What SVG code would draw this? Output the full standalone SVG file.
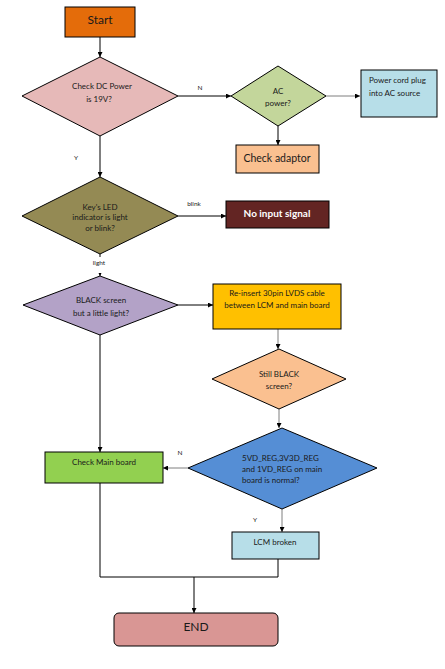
<svg xmlns="http://www.w3.org/2000/svg" width="445" height="669" viewBox="0 0 445 669">
<style>
.n{stroke:#000;stroke-width:1}
.t{font-family:Lato,"Liberation Sans",sans-serif;font-size:8px;fill:#1a1a1a;text-anchor:middle}
.tl{font-family:Lato,"Liberation Sans",sans-serif;font-size:8px;fill:#1a1a1a}
.big{font-family:Lato,"Liberation Sans",sans-serif;font-size:12px;fill:#1a1a1a;text-anchor:middle}
.lab{font-family:Lato,"Liberation Sans",sans-serif;font-size:6.5px;fill:#1a1a1a;text-anchor:middle}
.c{fill:none;stroke:#000;stroke-width:1}
.g{fill:none;stroke:#7f7f7f;stroke-width:1}
</style>
<defs>
<marker id="ah" viewBox="0 0 10 10" refX="10" refY="5" markerWidth="5" markerHeight="5" orient="auto" markerUnits="userSpaceOnUse">
<path d="M0,0 L10,5 L0,10 z" fill="#000"/>
</marker>
</defs>
<rect width="445" height="669" fill="#fff"/>
<g id="connectors">
<line class="c" x1="100" y1="37" x2="100" y2="57" marker-end="url(#ah)"/>
<line class="c" x1="178" y1="96" x2="231" y2="96" marker-end="url(#ah)"/>
<line class="g" x1="326" y1="96" x2="360" y2="96" marker-end="url(#ah)"/>
<line class="c" x1="278" y1="126" x2="278" y2="145" marker-end="url(#ah)"/>
<line class="c" x1="100" y1="136" x2="100" y2="177" marker-end="url(#ah)"/>
<line class="c" x1="178" y1="216" x2="226" y2="216" marker-end="url(#ah)"/>
<line class="c" x1="100" y1="254" x2="100" y2="276" marker-end="url(#ah)"/>
<line class="c" x1="178" y1="305" x2="213" y2="305" marker-end="url(#ah)"/>
<line class="g" x1="278" y1="329" x2="278" y2="349" marker-end="url(#ah)"/>
<line class="g" x1="279" y1="409" x2="279" y2="428" marker-end="url(#ah)"/>
<line class="g" x1="188" y1="468" x2="163" y2="468" marker-end="url(#ah)"/>
<line class="c" x1="100" y1="335" x2="100" y2="452" marker-end="url(#ah)"/>
<line class="g" x1="282" y1="509" x2="282" y2="532" marker-end="url(#ah)"/>
<polyline class="c" points="100,483 100,577 278,577 278,559"/>
<line class="c" x1="194" y1="577" x2="194" y2="613" marker-end="url(#ah)"/>
<text class="lab" x="200" y="90">N</text>
<text class="lab" x="76" y="160">Y</text>
<text class="lab" x="194" y="206">blink</text>
<rect x="88" y="257" width="24" height="16" fill="#fff"/>
<text class="lab" x="99" y="265">light</text>
<text class="lab" x="180" y="455">N</text>
<text class="lab" x="255" y="522">Y</text>
</g>
<g id="start">
<rect class="n" x="65" y="7" width="70" height="30" fill="#E46C0A"/>
<text class="big" x="100" y="24">Start</text>
</g>
<g id="dc">
<polygon class="n" points="100,57 178,96 100,136 22,96" fill="#E6B9B8" stroke-width="0.5"/>
<text class="t" x="102" y="89">Check DC Power</text>
<text class="t" x="99" y="102">is 19V?</text>
</g>
<g id="ac">
<polygon class="n" points="278,66 326,96 278,126 231,96" fill="#C3D69B" stroke-width="0.5"/>
<text class="t" x="278" y="94">AC</text>
<text class="t" x="278" y="106">power?</text>
</g>
<g id="cord">
<rect class="n" x="361" y="70" width="76" height="47" fill="#B7DEE8"/>
<text class="tl" x="369" y="83">Power cord plug</text>
<text class="tl" x="369" y="96">into AC source</text>
</g>
<g id="adaptor">
<rect class="n" x="236" y="145" width="83" height="28" fill="#FAC090"/>
<text class="t" x="277" y="162" style="font-size:10.5px">Check adaptor</text>
</g>
<g id="led">
<polygon class="n" points="100,177 178,216 100,254 22,216" fill="#948A54" stroke-width="0.5"/>
<text class="t" x="100" y="210">Key's LED</text>
<text class="t" x="100" y="220">indicator is light</text>
<text class="t" x="100" y="231">or blink?</text>
</g>
<g id="noinput">
<rect class="n" x="226" y="201" width="103" height="27" fill="#632523"/>
<text class="t" x="277" y="216.5" style="font-size:10px;font-weight:bold;fill:#fff">No input signal</text>
</g>
<g id="black">
<polygon class="n" points="100,276 178,305 100,335 23,305" fill="#B3A2C7" stroke-width="0.5"/>
<text class="t" x="101" y="303">BLACK screen</text>
<text class="t" x="101" y="316">but a little light?</text>
</g>
<g id="reinsert">
<rect class="n" x="213" y="284" width="128" height="45" fill="#FFC000"/>
<text class="t" x="277" y="296">Re-insert 30pin LVDS cable</text>
<text class="t" x="277" y="308">between LCM and main board</text>
</g>
<g id="still">
<polygon class="n" points="279,349 346,379 279,409 212,379" fill="#FAC090" stroke-width="0.5"/>
<text class="t" x="279" y="377">Still BLACK</text>
<text class="t" x="279" y="389">screen?</text>
</g>
<g id="reg">
<polygon class="n" points="282,428 377,468 282,509 188,468" fill="#558ED5" stroke-width="0.5"/>
<text class="tl" x="242" y="461">5VD_REG,3V3D_REG</text>
<text class="tl" x="242" y="472">and 1VD_REG on main</text>
<text class="tl" x="242" y="483">board is normal?</text>
</g>
<g id="mainboard">
<rect class="n" x="45" y="452" width="118" height="31" fill="#92D050"/>
<text class="t" x="104" y="465">Check Main board</text>
</g>
<g id="lcm">
<rect class="n" x="232" y="532" width="87" height="27" fill="#B7DEE8"/>
<text class="t" x="275" y="545">LCM broken</text>
</g>
<g id="end">
<rect class="n" x="114" y="613" width="164" height="33" rx="5" fill="#D99694" stroke-width="0.7"/>
<text class="big" x="196" y="631">END</text>
</g>
</svg>
